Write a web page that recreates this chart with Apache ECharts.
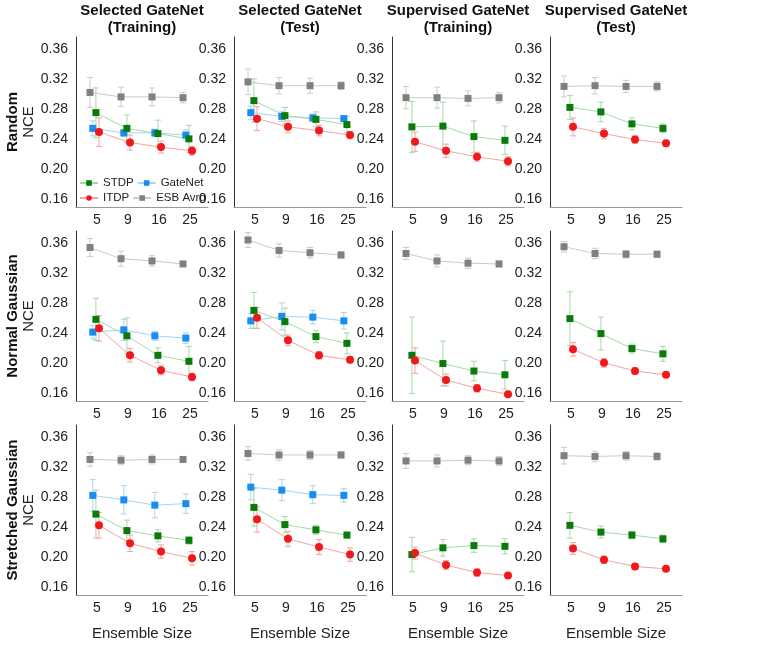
<!DOCTYPE html>
<html>
<head>
<meta charset="utf-8">
<script src="https://cdn.jsdelivr.net/npm/echarts@6/dist/echarts.min.js"></script>
<style>
  html, body { margin: 0; padding: 0; background: #fff; }
  #chart { width: 784px; height: 661px; }
</style>
</head>
<body>
<div id="chart"></div>
<script>
// ensemble sizes (x categories)
const sizes = ['5', '9', '16', '25'];
const colTitles = ['Selected GateNet\n(Training)', 'Selected GateNet\n(Test)', 'Supervised GateNet\n(Training)', 'Supervised GateNet\n(Test)'];
const rowTitles = ['Random', 'Normal Gaussian', 'Stretched Gaussian'];
const yTicks = [0.16, 0.20, 0.24, 0.28, 0.32, 0.36];

// one row per panel: Random (4 cols), Normal Gaussian (4 cols), Stretched Gaussian (4 cols)
const stdpMean = [
  [0.275, 0.254, 0.247, 0.240], [0.291, 0.271, 0.266, 0.259], [0.256, 0.257, 0.243, 0.238], [0.282, 0.276, 0.260, 0.254],
  [0.258, 0.236, 0.210, 0.202], [0.270, 0.255, 0.235, 0.226], [0.210, 0.199, 0.189, 0.184], [0.259, 0.239, 0.219, 0.212],
  [0.257, 0.235, 0.228, 0.222], [0.266, 0.243, 0.236, 0.229], [0.203, 0.212, 0.215, 0.214], [0.242, 0.233, 0.229, 0.224]
];
const stdpErr = [
  [0.033, 0.018, 0.018, 0.018], [0.029, 0.011, 0.010, 0.011], [0.034, 0.032, 0.021, 0.019], [0.016, 0.013, 0.008, 0.006],
  [0.028, 0.024, 0.010, 0.020], [0.024, 0.018, 0.008, 0.014], [0.051, 0.030, 0.013, 0.019], [0.036, 0.022, 0.006, 0.010],
  [0.032, 0.014, 0.008, 0.005], [0.025, 0.011, 0.006, 0.004], [0.023, 0.011, 0.009, 0.010], [0.017, 0.008, 0.005, 0.005]
];
const itdpMean = [
  [0.249, 0.235, 0.229, 0.224], [0.267, 0.256, 0.251, 0.245], [0.236, 0.224, 0.216, 0.210], [0.256, 0.247, 0.239, 0.234],
  [0.246, 0.210, 0.190, 0.181], [0.260, 0.230, 0.210, 0.204], [0.203, 0.177, 0.166, 0.158], [0.218, 0.200, 0.189, 0.184],
  [0.242, 0.218, 0.207, 0.198], [0.250, 0.224, 0.213, 0.203], [0.205, 0.189, 0.179, 0.175], [0.211, 0.196, 0.187, 0.184]
];
const itdpErr = [
  [0.019, 0.010, 0.008, 0.006], [0.016, 0.008, 0.007, 0.005], [0.013, 0.009, 0.006, 0.006], [0.012, 0.007, 0.005, 0.004],
  [0.017, 0.009, 0.006, 0.005], [0.014, 0.007, 0.005, 0.004], [0.017, 0.008, 0.005, 0.003], [0.009, 0.006, 0.004, 0.003],
  [0.017, 0.011, 0.009, 0.009], [0.017, 0.010, 0.010, 0.009], [0.008, 0.006, 0.005, 0.003], [0.008, 0.005, 0.004, 0.003]
];
// GateNet only in the "Selected" columns
const gateMean = [
  [0.254, 0.248, 0.248, 0.245], [0.275, 0.270, 0.268, 0.267], null, null,
  [0.241, 0.244, 0.236, 0.233], [0.256, 0.262, 0.261, 0.256], null, null,
  [0.282, 0.276, 0.269, 0.271], [0.293, 0.289, 0.283, 0.282], null, null
];
const gateErr = [
  [0.010, 0.005, 0.005, 0.007], [0.009, 0.007, 0.005, 0.004], null, null,
  [0.009, 0.014, 0.006, 0.007], [0.010, 0.018, 0.009, 0.011], null, null,
  [0.021, 0.019, 0.017, 0.013], [0.017, 0.014, 0.012, 0.009], null, null
];
const esbMean = [
  [0.302, 0.296, 0.296, 0.295], [0.316, 0.311, 0.311, 0.311], [0.295, 0.295, 0.294, 0.295], [0.310, 0.311, 0.310, 0.310],
  [0.354, 0.339, 0.336, 0.332], [0.364, 0.350, 0.347, 0.344], [0.346, 0.336, 0.333, 0.332], [0.355, 0.346, 0.345, 0.345],
  [0.330, 0.329, 0.330, 0.330], [0.338, 0.336, 0.336, 0.336], [0.328, 0.328, 0.329, 0.328], [0.335, 0.334, 0.335, 0.334]
];
const esbErr = [
  [0.020, 0.013, 0.012, 0.007], [0.017, 0.011, 0.010, 0.005], [0.015, 0.014, 0.010, 0.007], [0.014, 0.011, 0.008, 0.006],
  [0.012, 0.010, 0.007, 0.003], [0.010, 0.009, 0.007, 0.004], [0.008, 0.008, 0.007, 0.004], [0.007, 0.007, 0.005, 0.004],
  [0.009, 0.006, 0.006, 0.004], [0.009, 0.007, 0.006, 0.004], [0.010, 0.008, 0.006, 0.006], [0.011, 0.007, 0.006, 0.005]
];

// layout
const colLeft = [76, 234, 392, 550];
const rowTop = [37, 231, 425];
const gridW = 132, gridH = 170;
const font = 'Liberation Sans, Arial, sans-serif';

const groups = [
  { name: 'ESB Avrg', mean: esbMean, err: esbErr, dx: -0.225, color: '#808080', light: '#cbcbcb', symbol: 'rect', size: 7 },
  { name: 'GateNet', mean: gateMean, err: gateErr, dx: -0.135, color: '#1a8cf0', light: '#a9d3f5', symbol: 'rect', size: 7 },
  { name: 'STDP', mean: stdpMean, err: stdpErr, dx: -0.035, color: '#0a7a0a', light: '#a6d8a6', symbol: 'rect', size: 7 },
  { name: 'ITDP', mean: itdpMean, err: itdpErr, dx: 0.065, color: '#f01818', light: '#f5a3a3', symbol: 'circle', size: 8 }
];

const grids = [], xAxes = [], yAxes = [], series = [], graphics = [];

for (let r = 0; r < 3; r++) {
  for (let c = 0; c < 4; c++) {
    const p = r * 4 + c;
    grids.push({ left: colLeft[c], top: rowTop[r], width: gridW, height: gridH });
    xAxes.push({
      gridIndex: p, type: 'value', min: 0.323, max: 4.58,
      splitLine: { show: false }, axisTick: { show: false },
      axisLine: { lineStyle: { color: '#999' } },
      axisLabel: {
        customValues: [1, 2, 3, 4], margin: 6, fontSize: 14, color: '#222', fontFamily: font,
        formatter: v => sizes[Math.round(v) - 1] || ''
      },
      name: r === 2 ? 'Ensemble Size' : '', nameLocation: 'middle', nameGap: 31,
      nameTextStyle: { fontSize: 15, color: '#222', fontFamily: font }
    });
    yAxes.push({
      gridIndex: p, type: 'value', min: 0.149, max: 0.376,
      splitLine: { show: false }, axisTick: { show: false },
      axisLine: { show: true, lineStyle: { color: '#333' } },
      axisLabel: {
        customValues: yTicks, margin: 8, fontSize: 14, color: '#222', fontFamily: font,
        formatter: v => v.toFixed(2)
      },
      name: c === 0 ? 'NCE' : '', nameLocation: 'middle', nameGap: 35, nameRotate: 90,
      nameTextStyle: { fontSize: 15, color: '#222', fontFamily: font }
    });

    groups.forEach(g => {
      if (!g.mean[p]) return;
      const pts = g.mean[p].map((m, i) => [i + 1 + g.dx, m]);
      const bars = g.mean[p].map((m, i) => [i + 1 + g.dx, m - g.err[p][i], m + g.err[p][i]]);
      series.push({
        type: 'custom', xAxisIndex: p, yAxisIndex: p, silent: true, z: 1,
        encode: { x: 0, y: [1, 2] },
        data: bars,
        renderItem: (params, api) => {
          const top = api.coord([api.value(0), api.value(2)]);
          const bot = api.coord([api.value(0), api.value(1)]);
          const w = 3;
          const st = { stroke: g.light, lineWidth: 1 };
          return {
            type: 'group', children: [
              { type: 'line', shape: { x1: top[0], y1: top[1], x2: bot[0], y2: bot[1] }, style: st },
              { type: 'line', shape: { x1: top[0] - w, y1: top[1], x2: top[0] + w, y2: top[1] }, style: st },
              { type: 'line', shape: { x1: bot[0] - w, y1: bot[1], x2: bot[0] + w, y2: bot[1] }, style: st }
            ]
          };
        }
      });
      series.push({
        name: g.name, type: 'line', xAxisIndex: p, yAxisIndex: p, z: 3,
        data: pts, symbol: g.symbol, symbolSize: g.size, showSymbol: true,
        lineStyle: { color: g.light, width: 1 },
        itemStyle: { color: g.color },
        emphasis: { disabled: true }, animation: false
      });
    });
  }
}

colTitles.forEach((t, c) => {
  graphics.push({
    type: 'text', x: colLeft[c] + gridW / 2, y: 19,
    style: { text: t, font: 'bold 15px ' + font, align: 'center', verticalAlign: 'middle', lineHeight: 17, fill: '#111' }
  });
});
rowTitles.forEach((t, r) => {
  graphics.push({
    type: 'text', x: 13, y: rowTop[r] + gridH / 2, rotation: Math.PI / 2,
    style: { text: t, font: 'bold 15px ' + font, align: 'center', verticalAlign: 'middle', fill: '#111' }
  });
});

const chart = echarts.init(document.getElementById('chart'));
chart.setOption({
  animation: false,
  backgroundColor: '#fff',
  grid: grids,
  xAxis: xAxes,
  yAxis: yAxes,
  legend: {
    data: ['STDP', 'GateNet', 'ITDP', 'ESB Avrg'],
    left: 79, top: 177, width: 130, padding: 0,
    itemWidth: 18, itemHeight: 7, itemGap: 3,
    textStyle: { fontSize: 11.5, width: 28, color: '#222', fontFamily: font }
  },
  graphic: graphics,
  series: series
});
</script>
</body>
</html>
